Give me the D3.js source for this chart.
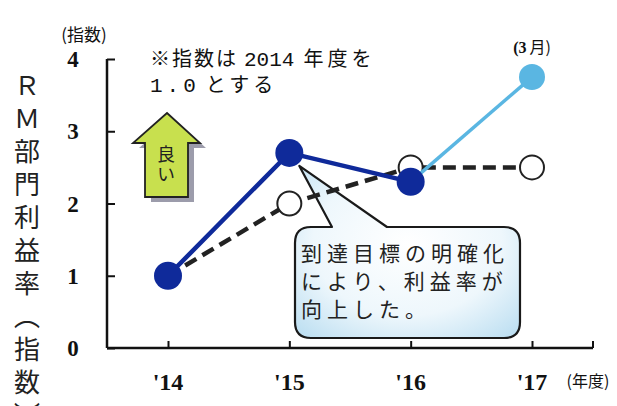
<!DOCTYPE html>
<html>
<head>
<meta charset="utf-8">
<script src="https://cdn.jsdelivr.net/npm/d3@7"></script>
<style>
  html, body { margin: 0; padding: 0; background: #fff; }
  svg { display: block; }
</style>
</head>
<body>
<div id="chart"></div>
<script>
// Fiscal years on the x axis
const years = ["'14", "'15", "'16", "'17"];
// Actual profit-rate index (FY2014 = 1.0)
const actualYears = ["'14", "'15", "'16"];
const actualValues = [1.0, 2.7, 2.3];
// Latest value (as of March)
const latestYears = ["'16", "'17"];
const latestValues = [2.3, 3.75];
// Target index (dashed)
const targetYears = ["'14", "'15", "'16", "'17"];
const targetValues = [1.0, 2.0, 2.5, 2.5];
// Y ticks
const yTicks = [0, 1, 2, 3, 4];
const yTitle = "ＲＭ部門利益率（指数）";
const calloutLines = ["到達目標の明確化", "により、利益率が", "向上した。"];

const W = 617, H = 406;
const svg = d3.select("#chart").append("svg").attr("width", W).attr("height", H);

const x = d3.scalePoint().domain(years).range([168, 532]);
const y = d3.scaleLinear().domain([0, 4]).range([348, 59]);

const serif = "'Liberation Serif', 'DejaVu Serif', serif";
const mono = "'Liberation Mono', 'DejaVu Sans Mono', monospace";
const cjk = "'Noto Sans CJK JP', 'Noto Sans', sans-serif";

const defs = svg.append("defs");
const grad = defs.append("radialGradient").attr("id", "bubbleFill")
  .attr("cx", "50%").attr("cy", "45%").attr("r", "70%");
grad.append("stop").attr("offset", "0%").attr("stop-color", "#ffffff");
grad.append("stop").attr("offset", "60%").attr("stop-color", "#eef7fc");
grad.append("stop").attr("offset", "100%").attr("stop-color", "#bfe0f2");

// Y axis: line with inward ticks
const yAxis = d3.axisRight(y).tickValues(yTicks).tickSize(8).tickFormat("");
const gy = svg.append("g").attr("transform", "translate(107,0)").call(yAxis);
gy.select(".domain").attr("d", `M0,${y(4)}V${y(0)}`).attr("stroke", "#111").attr("stroke-width", 2.5);
gy.selectAll(".tick line").attr("stroke", "#111").attr("stroke-width", 2);

// Y tick labels
svg.append("g").selectAll("text").data(yTicks).join("text")
  .attr("x", 73).attr("y", d => y(d) + 8)
  .attr("text-anchor", "middle")
  .attr("font-family", serif).attr("font-weight", "bold").attr("font-size", 23)
  .attr("fill", "#111")
  .text(d => d);

// X axis: line with upward ticks
const xAxis = d3.axisTop(x).tickSize(7).tickFormat("");
const gx = svg.append("g").attr("transform", `translate(0,${y(0)})`).call(xAxis);
gx.select(".domain").attr("d", "M107,0H593").attr("stroke", "#111").attr("stroke-width", 2.5);
gx.selectAll(".tick line").attr("stroke", "#111").attr("stroke-width", 2);
gx.append("line").attr("x1", 593).attr("x2", 593).attr("y1", 0).attr("y2", -7)
  .attr("stroke", "#111").attr("stroke-width", 2);

// X tick labels
svg.append("g").selectAll("text").data(years).join("text")
  .attr("x", d => x(d)).attr("y", 390)
  .attr("text-anchor", "middle")
  .attr("font-family", serif).attr("font-weight", "bold").attr("font-size", 24)
  .attr("fill", "#111")
  .text(d => d);

svg.append("text").attr("x", 588).attr("y", 387).attr("text-anchor", "middle")
  .attr("font-family", cjk).attr("font-size", 16).attr("fill", "#111")
  .text("(年度)");

// Unit label
svg.append("text").attr("x", 84).attr("y", 41).attr("text-anchor", "middle")
  .attr("font-family", cjk).attr("font-size", 17).attr("fill", "#111")
  .text("(指数)");

// Vertical axis title, set in vertical writing mode
svg.append("text")
  .attr("x", 27).attr("y", 72)
  .attr("writing-mode", "vertical-rl")
  .attr("font-family", cjk).attr("font-size", 26).attr("letter-spacing", 7)
  .attr("fill", "#222")
  .text(yTitle);

// Note about the index base year
const note = svg.append("text")
  .attr("font-family", cjk).attr("font-size", 20).attr("fill", "#111");
const l1 = note.append("tspan").attr("x", 150).attr("y", 66);
l1.append("tspan").attr("letter-spacing", 2).text("※指数は");
l1.append("tspan").attr("font-family", mono).attr("font-size", 21).attr("dx", 6).text("2014");
l1.append("tspan").attr("letter-spacing", 4).attr("dx", 9).text("年度を");
const l2 = note.append("tspan").attr("x", 150).attr("y", 92);
l2.append("tspan").attr("font-family", mono).attr("font-size", 21).attr("letter-spacing", 4).text("1.0");
l2.append("tspan").attr("letter-spacing", 4).attr("dx", 6).text("とする");

// "Better" arrow with shadow
const arrowPath = "M167,113 L200,143 L188,143 L188,197 L145,197 L145,143 L133,143 Z";
svg.append("path").attr("d", arrowPath).attr("transform", "translate(6,5)")
  .attr("fill", "#9c9cab");
svg.append("path").attr("d", arrowPath)
  .attr("fill", "#c8e04e").attr("stroke", "#222").attr("stroke-width", 1.8)
  .attr("stroke-linejoin", "miter");
svg.append("text").attr("x", 166).attr("y", 145)
  .attr("writing-mode", "vertical-rl")
  .attr("font-family", cjk).attr("font-size", 18).attr("letter-spacing", 2)
  .attr("fill", "#222").text("良い");

// Callout bubble pointing at the 2015 value
const bx0 = 295, by0 = 227, bx1 = 520, by1 = 338, r = 16;
const tipX = x("'15") + 10, tipY = y(2.7) + 13;
const bubble = d3.path();
bubble.moveTo(bx0 + r, by0);
bubble.lineTo(332, by0);
bubble.lineTo(tipX, tipY);
bubble.lineTo(387, by0);
bubble.lineTo(bx1 - r, by0);
bubble.quadraticCurveTo(bx1, by0, bx1, by0 + r);
bubble.lineTo(bx1, by1 - r);
bubble.quadraticCurveTo(bx1, by1, bx1 - r, by1);
bubble.lineTo(bx0 + r, by1);
bubble.quadraticCurveTo(bx0, by1, bx0, by1 - r);
bubble.lineTo(bx0, by0 + r);
bubble.quadraticCurveTo(bx0, by0, bx0 + r, by0);
bubble.closePath();
svg.append("path").attr("d", bubble.toString())
  .attr("fill", "url(#bubbleFill)").attr("stroke", "#1a1a1a").attr("stroke-width", 2.2)
  .attr("stroke-linejoin", "round");

svg.append("text")
  .attr("font-family", cjk).attr("font-size", 21).attr("letter-spacing", 5)
  .attr("fill", "#222")
  .selectAll("tspan").data(calloutLines).join("tspan")
  .attr("x", 301).attr("y", (d, i) => 261 + i * 28)
  .text(d => d);

// Target line (dashed) with open circles
const line = d3.line().x(d => x(d[0])).y(d => y(d[1]));
const targetPts = targetYears.map((d, i) => [d, targetValues[i]]);
svg.append("path").attr("d", line(targetPts))
  .attr("fill", "none").attr("stroke", "#222").attr("stroke-width", 4.5)
  .attr("stroke-dasharray", "13,7");
svg.append("g").selectAll("circle").data(targetPts.slice(1)).join("circle")
  .attr("cx", d => x(d[0])).attr("cy", d => y(d[1])).attr("r", 12)
  .attr("fill", "#fff").attr("stroke", "#222").attr("stroke-width", 2);

// Latest (light blue)
const latestPts = latestYears.map((d, i) => [d, latestValues[i]]);
svg.append("path").attr("d", line(latestPts))
  .attr("fill", "none").attr("stroke", "#5ab6e2").attr("stroke-width", 3.5);
svg.append("circle").attr("cx", x(latestPts[1][0])).attr("cy", y(latestPts[1][1])).attr("r", 13)
  .attr("fill", "#5ab6e2");
const mar = svg.append("text").attr("x", x("'17")).attr("y", 53).attr("text-anchor", "middle")
  .attr("font-size", 16).attr("fill", "#111");
mar.append("tspan").attr("font-family", serif).attr("font-weight", "bold").text("(3");
mar.append("tspan").attr("font-family", cjk).attr("dx", 3).text("月)");

// Actual (navy)
const actualPts = actualYears.map((d, i) => [d, actualValues[i]]);
svg.append("path").attr("d", line(actualPts))
  .attr("fill", "none").attr("stroke", "#0f2a9a").attr("stroke-width", 4.5);
svg.append("g").selectAll("circle").data(actualPts).join("circle")
  .attr("cx", d => x(d[0])).attr("cy", d => y(d[1])).attr("r", 14)
  .attr("fill", "#0f2a9a");
</script>
</body>
</html>
